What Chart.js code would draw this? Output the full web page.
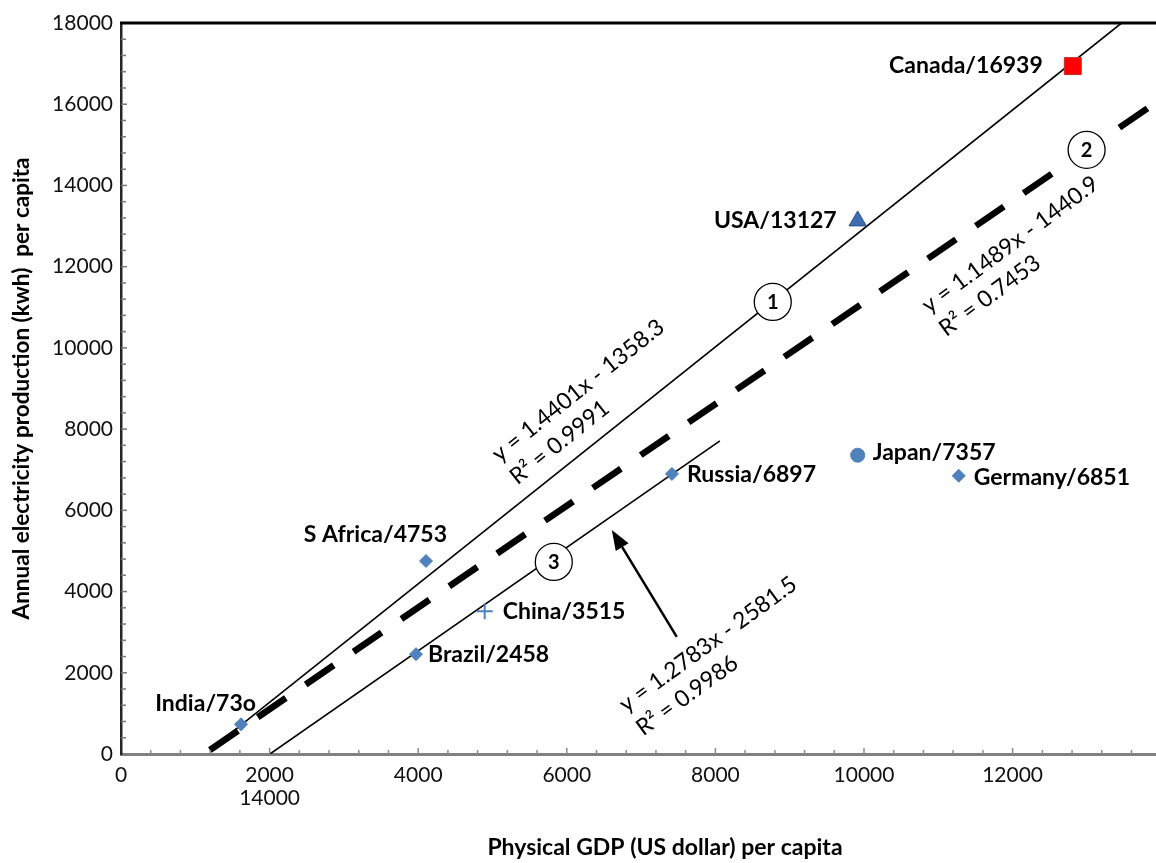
<!DOCTYPE html>
<html>
<head>
<meta charset="utf-8">
<script src="https://cdn.jsdelivr.net/npm/chart.js@4.4.1/dist/chart.umd.min.js"></script>
<style>
  html, body { margin: 0; padding: 0; background: #fff; }
  #wrap { width: 1156px; height: 863px; position: relative; }
</style>
</head>
<body>
<div id="wrap"><canvas id="chart"></canvas></div>
<script>
// values
const countries = ['Canada', 'USA', 'Japan', 'Germany', 'Russia', 'S Africa', 'China', 'Brazil', 'India'];
const gdpPerCapita = [12810, 9915, 9915, 11275, 7415, 4105, 4895, 3970, 1615];
const electricityPerCapita = [16939, 13127, 7357, 6851, 6897, 4753, 3515, 2458, 730];
const valueLabels = ['16939', '13127', '7357', '6851', '6897', '4753', '3515', '2458', '73o'];

// the three fitted lines, end points as drawn
const fit1X = [1197, 13467];
const fit1Y = [99, 18000];
const fit2X = [1197, 13930];
const fit2Y = [99, 16041];
const fit3X = [2005, 8060];
const fit3Y = [0, 7709];

const equations = [
    ['y = 1.4401x - 1358.3', 'R² = 0.9991'],
    ['y = 1.1489x - 1440.9', 'R² = 0.7453'],
    ['y = 1.2783x - 2581.5', 'R² = 0.9986']
];
const lineNumbers = ['1', '2', '3'];

const xTickValues = [0, 2000, 4000, 6000, 8000, 10000, 12000];
const xTickLabels = ['0', ['2000', '14000'], '4000', '6000', '8000', '10000', '12000'];
const yTickValues = [0, 2000, 4000, 6000, 8000, 10000, 12000, 14000, 16000, 18000];
const yTickLabels = ['0', '2000', '4000', '6000', '8000', '10000', '12000', '14000', '16000', '18000'];

// marker look per country
const markerStyles = ['rect', 'triangle', 'circle', 'rectRot', 'rectRot', 'rectRot', 'cross', 'rectRot', 'rectRot'];
const markerRadius = [12, 10, 7, 6.5, 6.5, 6.5, 8, 6.5, 6.5];
const markerFill = ['#ff0000', '#3d6cb0', '#4f81bd', '#4f81bd', '#4f81bd', '#4f81bd', '#4f81bd', '#4f81bd', '#4f81bd'];
const markerEdge = ['#c0302b', '#2b5590', '#4f81bd', '#4f81bd', '#4f81bd', '#4f81bd', '#4f81bd', '#4f81bd', '#4f81bd'];

// where each country label sits relative to its marker
const labelPlace = [
    { dx: -30, dy: -1, align: 'right' },
    { dx: -21, dy: 0, align: 'right' },
    { dx: 15, dy: -3, align: 'left' },
    { dx: 15, dy: 2, align: 'left' },
    { dx: 15, dy: 1, align: 'left' },
    { dx: 21, dy: -26, align: 'right' },
    { dx: 18, dy: 0, align: 'left' },
    { dx: 12, dy: 0, align: 'left' },
    { dx: 15, dy: -21, align: 'right' }
];

// annotation anchors in data units
const circleSpots = [{ x: 8772, y: 11133 }, { x: 12996, y: 14877 }, { x: 5825, y: 4729 }];
const equationSpots = [
    { x: 5032, y: 7315, angle: -38.6 },
    { x: 10817, y: 10985, angle: -36.5 },
    { x: 6740, y: 1158, angle: -36 }
];
const arrowFrom = { x: 7480, y: 2882 };
const arrowTo = { x: 6606, y: 5517 };

Chart.defaults.font.family = 'Lato, "Open Sans", sans-serif';
Chart.defaults.color = '#111';

const decorations = {
    id: 'decorations',
    afterDraw(chart) {
        const ctx = chart.ctx;
        const xs = chart.scales.x;
        const ys = chart.scales.y;
        const area = chart.chartArea;

        ctx.save();
        // top frame line
        ctx.strokeStyle = '#000';
        ctx.lineWidth = 3;
        ctx.beginPath();
        ctx.moveTo(area.left - 1, area.top);
        ctx.lineTo(chart.width, area.top);
        ctx.stroke();

        // inner tick marks every 400
        ctx.lineWidth = 1.5;
        ctx.strokeStyle = '#8a8a8a';
        for (let v = 400; v <= xs.max; v += 400) {
            const px = xs.getPixelForValue(v);
            const len = v % 2000 === 0 ? 6 : 4;
            ctx.beginPath();
            ctx.moveTo(px, area.bottom);
            ctx.lineTo(px, area.bottom - len);
            ctx.stroke();
        }
        ctx.strokeStyle = '#777';
        for (let v = 400; v < ys.max; v += 400) {
            const py = ys.getPixelForValue(v);
            const len = v % 2000 === 0 ? 6 : 5;
            ctx.beginPath();
            ctx.moveTo(area.left, py);
            ctx.lineTo(area.left + len, py);
            ctx.stroke();
        }

        // arrow towards line 3
        const ax0 = xs.getPixelForValue(arrowFrom.x), ay0 = ys.getPixelForValue(arrowFrom.y);
        const ax1 = xs.getPixelForValue(arrowTo.x), ay1 = ys.getPixelForValue(arrowTo.y);
        const ang = Math.atan2(ay1 - ay0, ax1 - ax0);
        const headLen = 20, headHalf = 7.5;
        ctx.strokeStyle = '#000';
        ctx.fillStyle = '#000';
        ctx.lineWidth = 2.5;
        ctx.beginPath();
        ctx.moveTo(ax0, ay0);
        ctx.lineTo(ax1 - Math.cos(ang) * headLen, ay1 - Math.sin(ang) * headLen);
        ctx.stroke();
        ctx.beginPath();
        ctx.moveTo(ax1, ay1);
        ctx.lineTo(ax1 - Math.cos(ang) * headLen - Math.sin(ang) * headHalf, ay1 - Math.sin(ang) * headLen + Math.cos(ang) * headHalf);
        ctx.lineTo(ax1 - Math.cos(ang) * headLen + Math.sin(ang) * headHalf, ay1 - Math.sin(ang) * headLen - Math.cos(ang) * headHalf);
        ctx.closePath();
        ctx.fill();

        // numbered circles
        circleSpots.forEach((c, i) => {
            const cx = xs.getPixelForValue(c.x), cy = ys.getPixelForValue(c.y);
            ctx.beginPath();
            ctx.arc(cx, cy, 18.5, 0, Math.PI * 2);
            ctx.fillStyle = '#fff';
            ctx.fill();
            ctx.lineWidth = 1.3;
            ctx.strokeStyle = '#000';
            ctx.stroke();
            ctx.fillStyle = '#000';
            ctx.font = 'bold 20px Lato';
            ctx.textAlign = 'center';
            ctx.textBaseline = 'middle';
            ctx.fillText(lineNumbers[i], cx, cy + 1);
        });

        // regression equations, rotated along their lines
        equationSpots.forEach((e, i) => {
            ctx.save();
            ctx.translate(xs.getPixelForValue(e.x), ys.getPixelForValue(e.y));
            ctx.rotate(e.angle * Math.PI / 180);
            ctx.fillStyle = '#000';
            ctx.font = '23px Lato';
            ctx.textAlign = 'left';
            ctx.textBaseline = 'middle';
            ctx.fillText(equations[i][0], 0, 0);
            ctx.fillText(equations[i][1], 0, 29);
            ctx.restore();
        });

        // country labels
        ctx.font = 'bold 23px Lato';
        ctx.fillStyle = '#000';
        ctx.textBaseline = 'middle';
        countries.forEach((name, i) => {
            const px = xs.getPixelForValue(gdpPerCapita[i]);
            const py = ys.getPixelForValue(electricityPerCapita[i]);
            const p = labelPlace[i];
            ctx.textAlign = p.align;
            ctx.fillText(name + '/' + valueLabels[i], px + p.dx, py + p.dy);
        });

        // x axis title
        ctx.font = 'bold 23px Lato';
        ctx.textAlign = 'center';
        ctx.fillText('Physical GDP (US dollar) per capita', 665, 848);
        ctx.restore();
    }
};

new Chart(document.getElementById('chart'), {
    type: 'scatter',
    data: {
        datasets: [
            {
                label: 'countries',
                data: countries.map((c, i) => ({ x: gdpPerCapita[i], y: electricityPerCapita[i] })),
                pointStyle: markerStyles,
                pointRadius: markerRadius,
                backgroundColor: markerFill,
                borderColor: markerEdge,
                borderWidth: markerStyles.map(s => s === 'cross' ? 2 : 1)
            },
            {
                label: 'fit 1',
                data: fit1X.map((x, i) => ({ x: x, y: fit1Y[i] })),
                showLine: true,
                pointRadius: 0,
                borderColor: '#000',
                borderWidth: 1.6
            },
            {
                label: 'fit 2',
                data: fit2X.map((x, i) => ({ x: x, y: fit2Y[i] })),
                showLine: true,
                pointRadius: 0,
                borderColor: '#000',
                borderWidth: 6.5,
                borderDash: [34, 24],
                borderCapStyle: 'butt'
            },
            {
                label: 'fit 3',
                data: fit3X.map((x, i) => ({ x: x, y: fit3Y[i] })),
                showLine: true,
                pointRadius: 0,
                borderColor: '#000',
                borderWidth: 1.6
            }
        ]
    },
    options: {
        responsive: true,
        maintainAspectRatio: false,
        animation: false,
        layout: { autoPadding: false, padding: { top: 23, right: 0, bottom: 0, left: 0 } },
        plugins: {
            legend: { display: false },
            tooltip: { enabled: false }
        },
        scales: {
            x: {
                type: 'linear',
                min: 0,
                max: 13930,
                afterBuildTicks: scale => { scale.ticks = xTickValues.map(v => ({ value: v })); },
                afterFit: scale => { scale.height = 109; },
                grid: { display: true, drawOnChartArea: false, drawTicks: false },
                border: { color: '#808080', width: 3 },
                ticks: {
                    maxRotation: 0,
                    autoSkip: false,
                    padding: 10,
                    color: '#111',
                    font: { size: 21, lineHeight: 1.1 },
                    callback: (v, i) => xTickLabels[i]
                }
            },
            y: {
                type: 'linear',
                min: 0,
                max: 18000,
                afterBuildTicks: scale => { scale.ticks = yTickValues.map(v => ({ value: v })); },
                afterFit: scale => { scale.width = 121; },
                grid: { display: true, drawOnChartArea: false, drawTicks: false },
                border: { color: '#262626', width: 2.5 },
                ticks: {
                    autoSkip: false,
                    padding: 8,
                    color: '#111',
                    font: { size: 21 },
                    callback: (v, i) => yTickLabels[i]
                },
                title: {
                    display: true,
                    text: 'Annual electricity production (kwh)  per capita',
                    color: '#000',
                    font: { size: 22.5, weight: 'bold' },
                    padding: { top: 8, bottom: 0 }
                }
            }
        }
    },
    plugins: [decorations]
});
</script>
</body>
</html>
